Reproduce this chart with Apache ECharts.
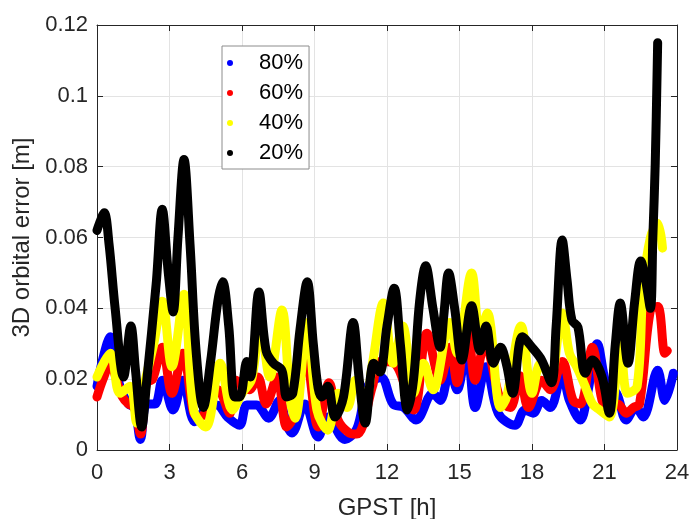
<!DOCTYPE html>
<html><head><meta charset="utf-8">
<script src="https://cdn.jsdelivr.net/npm/echarts@6/dist/echarts.min.js"></script>
<style>html,body{margin:0;padding:0;background:#fff}#c{width:691px;height:519px}</style>
</head><body><div id="c"></div>
<script>
const xTicks = [0, 3, 6, 9, 12, 15, 18, 21, 24];
const yTicks = [0, 0.02, 0.04, 0.06, 0.08, 0.1, 0.12];
const seriesNames = ['80%', '60%', '40%', '20%'];

const blue80 = [[0,0.018],[0.25,0.026],[0.55,0.032],[0.75,0.025],[0.95,0.018],[1.3,0.013],[1.55,0.012],[1.8,0.003],[2.05,0.013],[2.4,0.013],[2.7,0.0197],[3.15,0.0113],[3.55,0.0197],[4.05,0.008],[4.55,0.012],[4.95,0.0127],[5.4,0.0093],[5.9,0.007],[6.2,0.0127],[6.6,0.0127],[7.1,0.009],[7.55,0.014],[7.85,0.007],[8.07,0.0048],[8.6,0.013],[9.15,0.0037],[9.55,0.0093],[10.25,0.003],[10.75,0.006],[11.2,0.018],[11.75,0.0205],[12.25,0.013],[12.7,0.012],[13.2,0.0085],[13.9,0.016],[14.2,0.014],[14.6,0.0225],[14.9,0.017],[15.3,0.029],[15.65,0.012],[16.1,0.0235],[16.6,0.0104],[17.3,0.007],[17.7,0.0113],[18.05,0.0104],[18.4,0.014],[18.75,0.012],[19.25,0.0215],[19.55,0.014],[20.0,0.0085],[20.3,0.016],[20.7,0.030],[21.1,0.018],[21.5,0.016],[21.9,0.0085],[22.3,0.012],[22.6,0.0093],[23.2,0.0225],[23.5,0.014],[23.85,0.0217]];

const red60 = [[0,0.015],[0.25,0.02],[0.55,0.0245],[0.8,0.02],[1.05,0.015],[1.3,0.013],[1.55,0.012],[1.8,0.0045],[2.05,0.019],[2.3,0.02],[2.7,0.029],[3.1,0.016],[3.55,0.0273],[4.0,0.0104],[4.25,0.0093],[5.0,0.017],[5.5,0.0104],[5.75,0.0197],[6.3,0.017],[6.65,0.0206],[7.0,0.013],[7.45,0.0206],[7.85,0.0065],[8.07,0.0085],[8.65,0.0254],[9.15,0.0065],[9.6,0.019],[9.97,0.0085],[10.4,0.005],[10.75,0.0045],[11.4,0.018],[11.7,0.025],[12.3,0.0245],[13.1,0.0113],[13.65,0.033],[14.2,0.0197],[14.6,0.029],[14.9,0.019],[15.3,0.0395],[15.65,0.0197],[16.05,0.030],[16.7,0.014],[17.1,0.012],[17.5,0.021],[17.85,0.012],[18.4,0.0197],[18.75,0.017],[19.25,0.025],[19.7,0.014],[20.0,0.013],[20.5,0.029],[20.9,0.014],[21.2,0.012],[21.55,0.013],[21.9,0.0104],[22.2,0.012],[22.45,0.013],[22.9,0.0395],[23.2,0.0405],[23.5,0.0273],[23.6,0.028]];

const yellow40 = [[0,0.0206],[0.55,0.0273],[0.95,0.016],[1.37,0.018],[1.65,0.0076],[2.0,0.0197],[2.35,0.03],[2.7,0.042],[3.1,0.0235],[3.6,0.044],[4.0,0.0113],[4.5,0.0065],[5.1,0.0245],[5.6,0.0113],[6.0,0.016],[6.4,0.02],[6.75,0.036],[7.15,0.0206],[7.65,0.0395],[8.0,0.014],[8.2,0.009],[8.7,0.036],[9.1,0.0113],[9.55,0.0056],[9.97,0.016],[10.35,0.012],[10.7,0.0197],[11.1,0.014],[11.4,0.0245],[11.85,0.0415],[12.25,0.0245],[12.65,0.035],[13.1,0.016],[13.5,0.0245],[13.9,0.017],[14.6,0.036],[14.9,0.0273],[15.5,0.050],[15.85,0.032],[16.15,0.0387],[16.7,0.012],[16.95,0.015],[17.55,0.035],[18.0,0.016],[18.35,0.0245],[18.75,0.0206],[19.25,0.0387],[19.55,0.0273],[19.85,0.0235],[20.2,0.018],[20.5,0.013],[20.8,0.0113],[21.2,0.0093],[21.65,0.031],[21.95,0.016],[22.35,0.018],[22.6,0.046],[22.9,0.060],[23.2,0.064],[23.4,0.057]];

const black20 = [[0,0.062],[0.1,0.064],[0.3,0.067],[0.5,0.058],[0.75,0.04],[1.1,0.0206],[1.4,0.035],[1.6,0.022],[1.85,0.0065],[2.05,0.019],[2.45,0.047],[2.7,0.068],[2.95,0.05],[3.15,0.039],[3.35,0.06],[3.6,0.082],[3.85,0.058],[4.1,0.028],[4.4,0.012],[4.7,0.025],[5.0,0.042],[5.2,0.0475],[5.45,0.035],[5.7,0.015],[5.9,0.015],[6.2,0.025],[6.35,0.0206],[6.7,0.0446],[7.0,0.028],[7.3,0.0245],[7.65,0.0225],[7.85,0.015],[8.1,0.016],[8.4,0.034],[8.7,0.0475],[8.95,0.03],[9.15,0.0175],[9.3,0.015],[9.55,0.018],[9.85,0.0093],[10.2,0.015],[10.6,0.036],[10.85,0.02],[11.1,0.0076],[11.45,0.0245],[11.7,0.022],[12.0,0.035],[12.3,0.0457],[12.55,0.03],[12.85,0.0113],[13.1,0.02],[13.35,0.042],[13.6,0.052],[13.9,0.04],[14.2,0.029],[14.35,0.038],[14.55,0.05],[14.8,0.04],[15.1,0.0254],[15.5,0.0407],[15.85,0.028],[16.1,0.035],[16.4,0.0245],[16.7,0.029],[16.95,0.024],[17.2,0.016],[17.6,0.032],[18.0,0.029],[18.4,0.0254],[18.8,0.019],[19.0,0.035],[19.25,0.0593],[19.45,0.048],[19.65,0.0367],[19.9,0.0347],[20.2,0.0217],[20.5,0.0254],[20.9,0.0206],[21.2,0.0104],[21.45,0.03],[21.65,0.0415],[21.97,0.0245],[22.25,0.042],[22.5,0.0534],[22.7,0.048],[22.9,0.040],[23.0,0.06],[23.1,0.081],[23.2,0.115]];

const seriesData = [blue80, red60, yellow40, black20];
const colors = ['#0000ff', '#ff0000', '#ffff00', '#000000'];
const FONT = '"Liberation Sans", Arial, Helvetica, sans-serif';
const AX = '#262626';

const chart = echarts.init(document.getElementById('c'), null, {renderer: 'canvas'});
const fmt = v => String(parseFloat(Number(v).toFixed(3)));
const baseAxis = {
  axisLine: {show: true, onZero: false, lineStyle: {color: AX, width: 1}},
  axisTick: {show: true, inside: true, length: 6, lineStyle: {color: AX}},
  splitLine: {show: false}
};
chart.setOption({
  animation: false,
  backgroundColor: '#ffffff',
  textStyle: {fontFamily: FONT},
  grid: {left: 97, right: 14, top: 25, bottom: 69, containLabel: false, outerBoundsMode: 'none'},
  legend: {
    data: seriesNames,
    orient: 'vertical', left: 222, top: 46,
    backgroundColor: '#ffffff', borderColor: '#8c8c8c', borderWidth: 1, borderRadius: 0,
    padding: [2, 6, 1, 5], itemGap: 0, itemWidth: 48, itemHeight: 6,
    icon: 'circle',
    textStyle: {fontFamily: FONT, fontSize: 22, color: '#000', lineHeight: 30}
  },
  xAxis: [
    Object.assign({}, baseAxis, {
      type: 'value', min: xTicks[0], max: xTicks[xTicks.length - 1], interval: 3, position: 'bottom',
      name: 'GPST [h]', nameLocation: 'middle', nameGap: 46,
      nameTextStyle: {fontFamily: FONT, fontSize: 24, color: AX},
      axisLabel: {fontFamily: FONT, fontSize: 22, color: AX, margin: 12, formatter: fmt},
      splitLine: {show: true, lineStyle: {color: '#e3e3e3', width: 1}}
    }),
    Object.assign({}, baseAxis, {
      type: 'value', min: xTicks[0], max: xTicks[xTicks.length - 1], interval: 3, position: 'top',
      axisLabel: {show: false}
    })
  ],
  yAxis: [
    Object.assign({}, baseAxis, {
      type: 'value', min: yTicks[0], max: yTicks[yTicks.length - 1], interval: 0.02, position: 'left',
      name: '3D orbital error [m]', nameLocation: 'middle', nameGap: 54,
      nameTextStyle: {fontFamily: FONT, fontSize: 24, color: AX},
      axisLabel: {fontFamily: FONT, fontSize: 22, color: AX, margin: 9, formatter: fmt},
      splitLine: {show: true, lineStyle: {color: '#e3e3e3', width: 1}}
    }),
    Object.assign({}, baseAxis, {
      type: 'value', min: yTicks[0], max: yTicks[yTicks.length - 1], interval: 0.02, position: 'right',
      axisLabel: {show: false}
    })
  ],
  series: seriesData.map((d, i) => ({
    name: seriesNames[i], type: 'line', data: d, smooth: 0.35,
    showSymbol: false, symbol: 'circle', symbolSize: 6,
    itemStyle: {color: colors[i]},
    lineStyle: {color: colors[i], width: 9, cap: 'round', join: 'round'},
    z: 2 + i
  }))
});
</script></body></html>
